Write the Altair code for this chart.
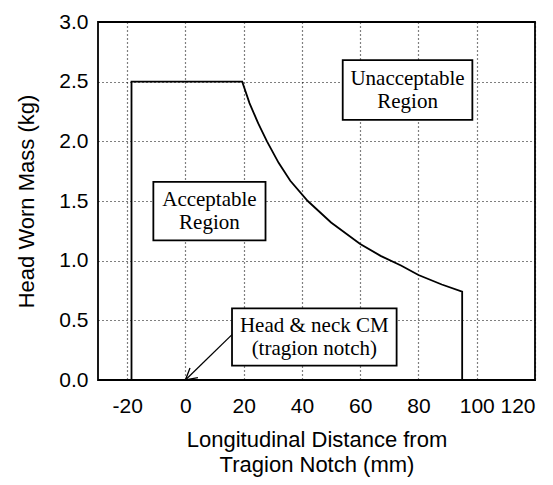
import altair as alt
import pandas as pd

# Boundary of the acceptable region
bx = [-18.5, -18.5, 19.5, 22, 25, 28, 32, 36, 42, 50, 60, 67, 74, 80, 88, 95, 95]
by = [0.0, 2.5, 2.5, 2.32, 2.15, 2.0, 1.82, 1.67, 1.5, 1.32, 1.14, 1.04, 0.96, 0.88, 0.80, 0.74, 0.0]

x_ticks = [-20, 0, 20, 40, 60, 80, 100, 120]
y_ticks = [0.0, 0.5, 1.0, 1.5, 2.0, 2.5, 3.0]

# Annotation boxes (data coordinates) and their labels
box_x1 = [54, -11, 16]
box_x2 = [98.5, 27.5, 72.5]
box_y1 = [2.18, 1.17, 0.12]
box_y2 = [2.68, 1.66, 0.60]
box_text = [["Unacceptable", "Region"], ["Acceptable", "Region"], ["Head & neck CM", "(tragion notch)"]]

# Arrow from the CM label to the tragion notch
arrow_x = [16.0, 0.0]
arrow_y = [0.38, 0.0]

boundary = pd.DataFrame({"x": bx, "y": by, "o": list(range(len(bx)))})
boxes = pd.DataFrame({
    "x1": box_x1, "x2": box_x2, "y1": box_y1, "y2": box_y2,
    "xm": [(a + b) / 2 for a, b in zip(box_x1, box_x2)],
    "ym": [(a + b) / 2 for a, b in zip(box_y1, box_y2)],
    "t": box_text,
})
arrow = pd.DataFrame({"x": arrow_x, "y": arrow_y, "o": [0, 1]})
tip = pd.DataFrame({"x": [arrow_x[1]], "y": [arrow_y[1]]})

xs = alt.Scale(domain=[-30, 120], nice=False, zero=False)
ys = alt.Scale(domain=[0, 3.0], nice=False, zero=False)

xaxis = alt.Axis(
    values=x_ticks, labelExpr="'' + datum.value", ticks=False, domain=False,
    grid=True, gridDash=[1, 3], gridColor="black", gridWidth=1.2,
    labelFont="Liberation Sans", labelFontSize=21, labelColor="black", labelPadding=15,
    title=["Longitudinal Distance from", "Tragion Notch (mm)"],
    titleFont="Liberation Sans", titleFontSize=22, titleFontWeight="normal",
    titleColor="black", titleLineHeight=25, titlePadding=13,
)
yaxis = alt.Axis(
    values=y_ticks, format=".1f", ticks=False, domain=False,
    grid=True, gridDash=[1, 3], gridColor="black", gridWidth=1.2,
    labelFont="Liberation Sans", labelFontSize=21, labelColor="black", labelPadding=10,
    title="Head Worn Mass (kg)",
    titleFont="Liberation Sans", titleFontSize=22, titleFontWeight="normal",
    titleColor="black", titlePadding=20,
)

line = alt.Chart(boundary).mark_line(color="black", strokeWidth=1.8).encode(
    x=alt.X("x:Q", scale=xs, axis=xaxis),
    y=alt.Y("y:Q", scale=ys, axis=yaxis),
    order="o:Q",
)

rects = alt.Chart(boxes).mark_rect(fill="white", stroke="black", strokeWidth=1.8).encode(
    x=alt.X("x1:Q", scale=xs), x2="x2:Q",
    y=alt.Y("y1:Q", scale=ys), y2="y2:Q",
)

texts = alt.Chart(boxes).mark_text(
    font="Liberation Serif", fontSize=21, color="black", lineHeight=23,
    align="center", baseline="middle", dy=-11.5,
).encode(
    x=alt.X("xm:Q", scale=xs), y=alt.Y("ym:Q", scale=ys), text="t",
)

arrow_line = alt.Chart(arrow).mark_line(color="black", strokeWidth=1.3).encode(
    x=alt.X("x:Q", scale=xs), y=alt.Y("y:Q", scale=ys), order="o:Q",
)

arrow_head = alt.Chart(tip).mark_point(
    shape="M -0.55 -1 L 0 0 L 0.55 -1", filled=False, stroke="black",
    strokeWidth=1.3, size=500, angle=50, opacity=1,
).encode(x=alt.X("x:Q", scale=xs), y=alt.Y("y:Q", scale=ys))

chart = alt.layer(line, arrow_line, arrow_head, rects, texts).properties(
    width=437, height=358,
    autosize=alt.AutoSizeParams(type="none"),
    padding={"left": 90, "top": 14, "right": 10, "bottom": 100},
    background="white",
).configure_view(stroke="black", strokeWidth=1.8)

chart.save("out.html", embed_options={"renderer": "svg", "actions": False})
